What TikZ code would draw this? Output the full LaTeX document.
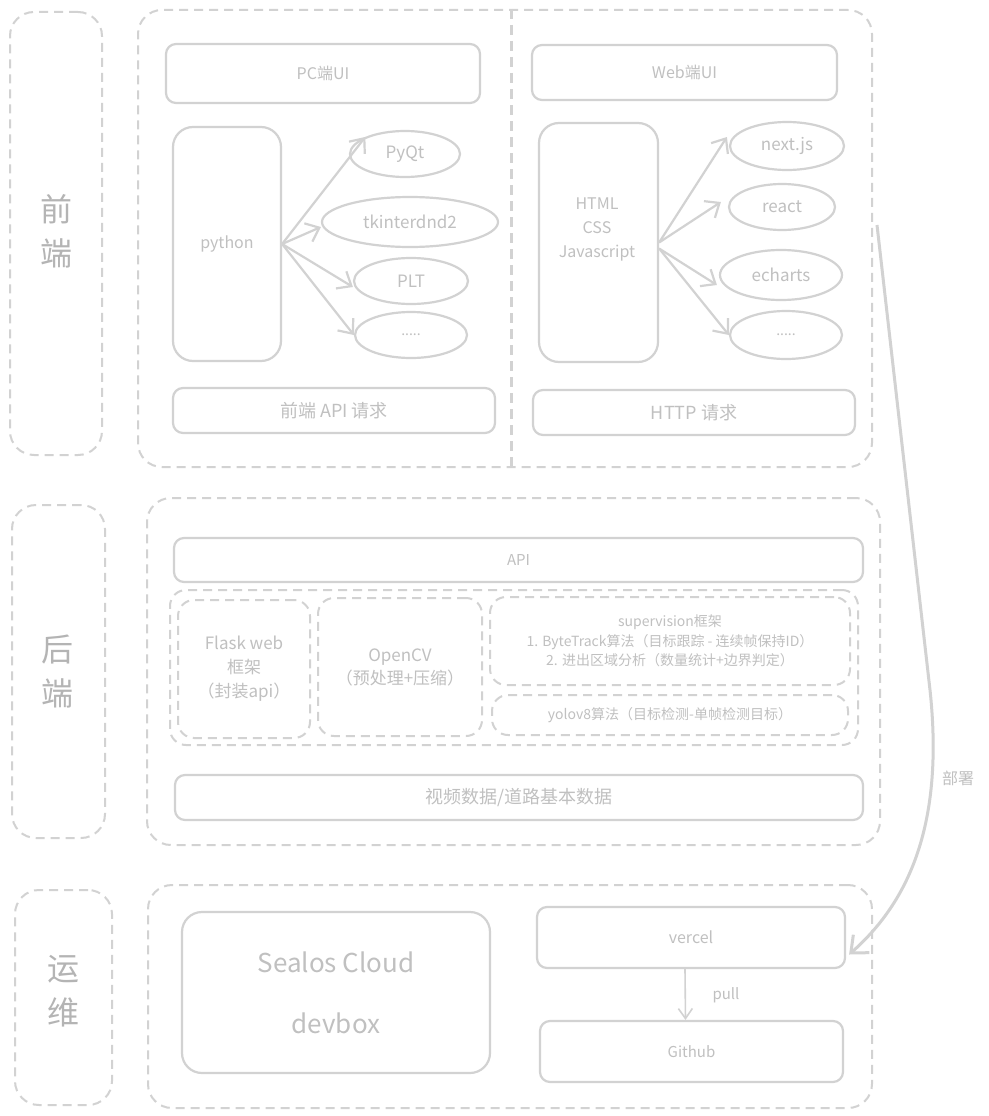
\documentclass[tikz,border=0pt]{standalone}
\usepackage{fontspec}
\setmainfont{Noto Sans CJK SC}
\usetikzlibrary{shapes.geometric,arrows.meta}
\definecolor{lc}{HTML}{D2D2D2}
\definecolor{tc}{HTML}{C0C0C0}
\definecolor{bc}{HTML}{B4B4B4}
\begin{document}
\begin{tikzpicture}[x=1pt,y=-1pt,
 grp/.style={draw=lc,line width=2pt,dash pattern=on 9pt off 6pt,rounded corners=24pt,inner sep=0pt},
 sgrp/.style={draw=lc,line width=2pt,dash pattern=on 9pt off 6pt,rounded corners=16pt,inner sep=0pt,text=tc,align=center},
 box/.style={draw=lc,line width=2.2pt,rounded corners=10pt,text=tc,inner sep=0pt,align=center},
 ell/.style={ellipse,draw=lc,line width=2.2pt,text=tc,inner sep=0pt},
 arr/.style={draw=lc,line width=2.2pt,-{Straight Barb[length=12pt,width=20pt]}},
 side/.style={text=bc,font=\fontsize{32}{44}\selectfont,align=center},
 txt/.style={text=tc,align=center}]
\useasboundingbox (0,0) rectangle (988,1116);
\fill[white] (0,0) rectangle (988,1116);

% side labels
\node[grp,minimum width=92pt,minimum height=443pt] (sfe) at (56,233.5) {};
\node[side] at (56,231) {前\\端};
\node[grp,minimum width=93pt,minimum height=333pt] (sbe) at (58.5,671.5) {};
\node[side] at (57,671) {后\\端};
\node[grp,minimum width=97pt,minimum height=215pt] (sop) at (63.5,997.5) {};
\node[side] at (63,991) {运\\维};

% frontend
\node[grp,minimum width=734pt,minimum height=457pt] (fe) at (505,238.5) {};
\draw[draw=lc,line width=3pt,dash pattern=on 10pt off 6pt] ([xshift=6pt]fe.north) -- ([xshift=6pt]fe.south);

\node[box,minimum width=314pt,minimum height=59pt,font=\fontsize{16}{20}\selectfont] (pcui) at (323,73.5) {PC端UI};
\node[box,rounded corners=20pt,minimum width=108pt,minimum height=234pt,font=\fontsize{16}{20}\selectfont] (py) at (227,244) {python};
\node[ell,minimum width=110pt,minimum height=46pt,font=\fontsize{17}{20}\selectfont] (pyqt) at (405,154) {PyQt};
\node[ell,minimum width=176pt,minimum height=50pt,font=\fontsize{17}{20}\selectfont] (tk) at (410,222) {tkinterdnd2};
\node[ell,minimum width=114pt,minimum height=46pt,font=\fontsize{17}{20}\selectfont] (plt) at (411,281) {PLT};
\node[ell,minimum width=112pt,minimum height=46pt,font=\fontsize{14}{20}\selectfont] (pdot) at (411,335) {.....};
\node[box,minimum width=322pt,minimum height=45pt,font=\fontsize{18}{22}\selectfont] (feapi) at (334,410.5) {前端 API 请求};

\draw[arr] (py.east) -- (pyqt.north west);
\draw[arr] (py.east) -- ([yshift=-5pt]tk.west);
\draw[arr] (py.east) -- ([yshift=-6pt]plt.west);
\draw[arr] (py.east) -- (pdot.west);

\node[box,minimum width=305pt,minimum height=55pt,font=\fontsize{16}{20}\selectfont] (webui) at (684.5,72.5) {Web端UI};
\node[box,rounded corners=20pt,minimum width=119pt,minimum height=239pt] (html) at (598.5,242.5) {};
\node[txt,font=\fontsize{16}{24}\selectfont] (htmltxt) at (597,229) {HTML\\CSS\\Javascript};
\node[ell,minimum width=114pt,minimum height=48pt,font=\fontsize{17}{20}\selectfont] (next) at (787,146) {next.js};
\node[ell,minimum width=106pt,minimum height=46pt,font=\fontsize{17}{20}\selectfont] (react) at (782,207) {react};
\node[ell,minimum width=122pt,minimum height=50pt,font=\fontsize{17}{20}\selectfont] (echarts) at (781,275) {echarts};
\node[ell,minimum width=112pt,minimum height=48pt,font=\fontsize{14}{20}\selectfont] (wdot) at (786,335) {.....};
\node[box,minimum width=322pt,minimum height=45pt,font=\fontsize{18}{22}\selectfont] (http) at (694,412.5) {HTTP 请求};

\draw[arr] (html.east) -- ([xshift=-2pt,yshift=9pt]next.west);
\draw[arr] (html.east) -- ([xshift=-7pt,yshift=5pt]react.west);
\draw[arr] ([yshift=-6pt]html.east) -- ([xshift=-2pt,yshift=-10pt]echarts.west);
\draw[arr] ([yshift=-6pt]html.east) -- (wdot.west);

% backend
\node[grp,minimum width=733pt,minimum height=347pt] (be) at (513.5,671.5) {};
\node[box,minimum width=689pt,minimum height=44pt,font=\fontsize{15}{20}\selectfont] (api) at (518.5,560) {API};
\node[sgrp,minimum width=688pt,minimum height=155pt] (bgrp) at (514,667.5) {};
\node[sgrp,minimum width=132pt,minimum height=138pt,font=\fontsize{17}{24}\selectfont] (flask) at (244,669) {Flask web\\框架\\（封装api）};
\node[sgrp,minimum width=164pt,minimum height=138pt,font=\fontsize{17}{23}\selectfont] (opencv) at (400,667) {OpenCV\\（预处理+压缩）};
\node[sgrp,minimum width=360pt,minimum height=88pt,font=\fontsize{14}{19.5}\selectfont] (sup) at (670,641) {supervision框架\\1. ByteTrack算法（目标跟踪 - 连续帧保持ID）\\2. 进出区域分析（数量统计+边界判定）};
\node[sgrp,minimum width=356pt,minimum height=40pt,font=\fontsize{14}{19}\selectfont] (yolo) at (670,715) {yolov8算法（目标检测-单帧检测目标）};
\node[box,minimum width=688pt,minimum height=45pt,font=\fontsize{18}{22}\selectfont] (video) at (519,797.5) {视频数据/道路基本数据};

% ops
\node[grp,minimum width=724pt,minimum height=223pt] (op) at (510,996.5) {};
\node[box,rounded corners=20pt,minimum width=308pt,minimum height=161pt,font=\fontsize{26}{61}\selectfont] (sealos) at (336,992.5) {Sealos Cloud\\devbox};
\node[box,minimum width=308pt,minimum height=61pt,font=\fontsize{16}{20}\selectfont] (vercel) at (691,937.5) {vercel};
\node[box,minimum width=303pt,minimum height=61pt,font=\fontsize{15}{20}\selectfont] (github) at (691.5,1051.5) {Github};
\draw[draw=lc,line width=1.6pt,-{Straight Barb[length=10pt,width=14pt]}] ([xshift=-6pt]vercel.south) -- ([xshift=-6pt]github.north);
\node[txt,font=\fontsize{15}{20}\selectfont] (pull) at (726,995) {pull};

% deploy arrow
\coordinate (dep) at (877,225);
\draw[arr,line width=3pt,-{Straight Barb[length=14pt,width=24pt]}] (dep) -- (930,690) .. controls (945,830) and (905,905) .. ([xshift=3pt,yshift=-17pt]vercel.east);
\node[txt,font=\fontsize{16}{20}\selectfont] (deplbl) at (958,778) {部署};
\end{tikzpicture}
\end{document}
